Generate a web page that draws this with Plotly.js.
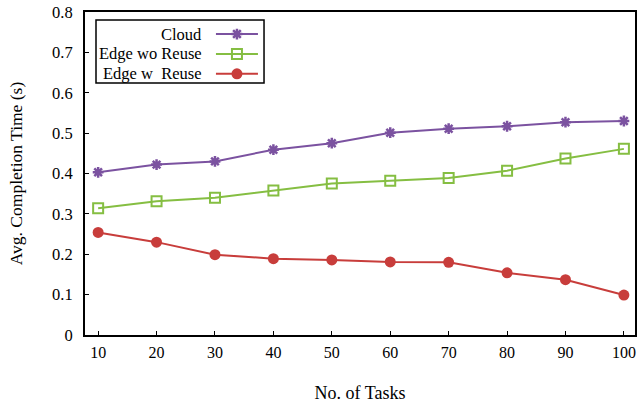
<!DOCTYPE html>
<html>
<head>
<meta charset="utf-8">
<script src="https://cdn.plot.ly/plotly-3.0.1.min.js"></script>
<style>
html,body{margin:0;padding:0;background:#fff;}
#chart{width:639px;height:405px;}
</style>
</head>
<body>
<div id="chart"></div>
<script>
const tasks = [10, 20, 30, 40, 50, 60, 70, 80, 90, 100];
const cloud = [0.403, 0.422, 0.430, 0.459, 0.475, 0.501, 0.511, 0.517, 0.527, 0.530];
const edgeWoReuse = [0.314, 0.331, 0.340, 0.358, 0.375, 0.382, 0.389, 0.407, 0.437, 0.461];
const edgeWReuse = [0.254, 0.230, 0.199, 0.189, 0.186, 0.181, 0.180, 0.154, 0.137, 0.099];
const seriesNames = ['Cloud', 'Edge wo Reuse', 'Edge w\u00a0 Reuse'];
const yTickVals = [0, 0.1, 0.2, 0.3, 0.4, 0.5, 0.6, 0.7, 0.8];
const yTickText = ['0', '0.1', '0.2', '0.3', '0.4', '0.5', '0.6', '0.7', '0.8'];
const xTitle = 'No. of Tasks';
const yTitle = 'Avg. Completion Time (s)';

const font = 'Liberation Serif, Times New Roman, serif';
const colors = ['#7B52A0', '#85BE42', '#C83D3B'];
const traces = [
  {x: tasks, y: cloud, name: seriesNames[0], mode: 'lines+markers',
   line: {color: colors[0], width: 2},
   marker: {symbol: 'asterisk-open', size: 9, color: colors[0], line: {color: colors[0], width: 2.5}}},
  {x: tasks, y: edgeWoReuse, name: seriesNames[1], mode: 'lines+markers',
   line: {color: colors[1], width: 2},
   marker: {symbol: 'square-open', size: 10, color: colors[1], line: {color: colors[1], width: 2}}},
  {x: tasks, y: edgeWReuse, name: seriesNames[2], mode: 'lines+markers',
   line: {color: colors[2], width: 2},
   marker: {symbol: 'circle', size: 11, color: colors[2]}}
];

// legend text drawn left of the symbols (gnuplot style)
const rowY = [0.929, 0.871, 0.811];
const annotations = seriesNames.map((n, i) => ({
  xref: 'paper', yref: 'paper', x: 0.2164, y: rowY[i], xanchor: 'right', yanchor: 'middle',
  text: n, showarrow: false, font: {family: font, size: 16.5, color: '#000'}
}));

const layout = {
  width: 639, height: 405,
  margin: {l: 85, r: 4, t: 12, b: 70},
  paper_bgcolor: '#fff', plot_bgcolor: '#fff',
  font: {family: font, size: 16, color: '#000'},
  showlegend: true,
  legend: {x: 0.229, y: 0.978, xanchor: 'left', yanchor: 'top',
           borderwidth: 0, bgcolor: 'rgba(0,0,0,0)',
           font: {family: font, size: 13, color: 'rgba(0,0,0,0)'},
           itemwidth: 42, tracegroupgap: 0},
  annotations: annotations,
  shapes: [{type: 'rect', xref: 'paper', yref: 'paper', x0: 0.02, x1: 0.3255, y0: 0.780, y1: 0.975,
            line: {color: '#000', width: 1.5}, fillcolor: 'rgba(0,0,0,0)', layer: 'above'}],
  xaxis: {range: [7.75, 101.9], tickvals: tasks, ticktext: tasks.map(String),
          ticks: 'inside', ticklen: 4, tickcolor: '#000', tickwidth: 1,
          showline: true, linecolor: '#000', linewidth: 2, mirror: true,
          showgrid: false, zeroline: false, ticklabelstandoff: 2,
          tickfont: {family: font, size: 16},
          title: {text: xTitle, font: {family: font, size: 18}, standoff: 26}},
  yaxis: {range: [0, 0.8], tickvals: yTickVals, ticktext: yTickText,
          ticks: 'inside', ticklen: 4, tickcolor: '#000', tickwidth: 1,
          showline: true, linecolor: '#000', linewidth: 2, mirror: true,
          showgrid: false, zeroline: false, ticklabelstandoff: 7,
          tickfont: {family: font, size: 16.5},
          title: {text: yTitle, font: {family: font, size: 17.5}, standoff: 25}}
};
Plotly.newPlot('chart', traces, layout, {displayModeBar: false, staticPlot: true});
</script>
</body>
</html>
